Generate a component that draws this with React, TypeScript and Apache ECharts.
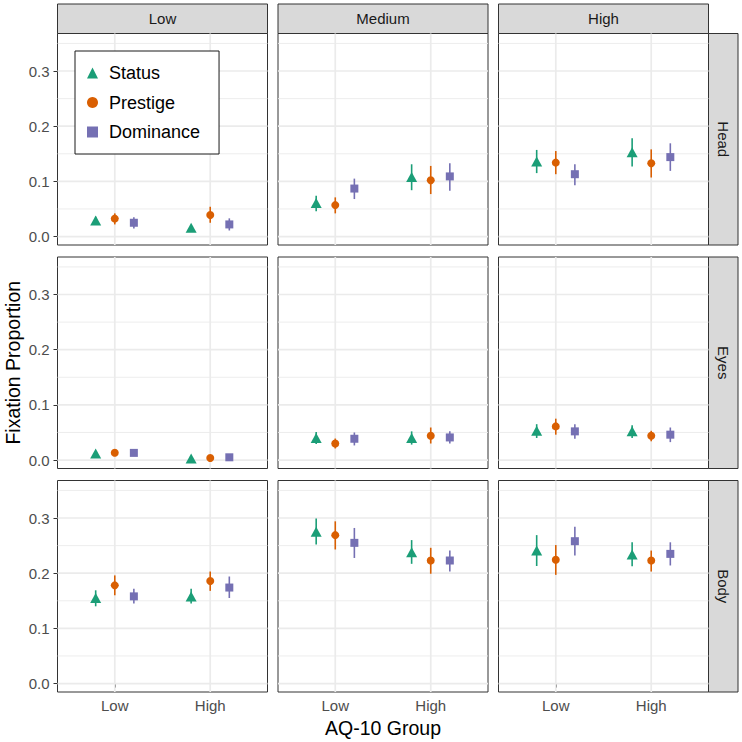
import React, { useEffect, useRef } from 'react';
import * as echarts from 'echarts';

// ---------- data ----------
const facetCols = ['Low', 'Medium', 'High'];
const facetRows = ['Head', 'Eyes', 'Body'];
const xCats = ['Low', 'High'];
const seriesNames = ['Status', 'Prestige', 'Dominance'];
const yTicks = [0, 0.1, 0.2, 0.3];
const yMinorTicks = [0.05, 0.15, 0.25, 0.35];

// [row: Head, Eyes, Body][col: Low, Medium, High][x: Low, High]
const statusMean = [
  [[0.029, 0.016], [0.061, 0.108], [0.136, 0.153]],
  [[0.012, 0.003], [0.040, 0.040], [0.053, 0.052]],
  [[0.155, 0.158], [0.275, 0.238], [0.241, 0.234]],
];
const statusLo = [
  [[0.022, 0.013], [0.046, 0.084], [0.115, 0.127]],
  [[0.009, 0.001], [0.029, 0.028], [0.040, 0.040]],
  [[0.140, 0.145], [0.252, 0.217], [0.213, 0.2125]],
];
const statusHi = [
  [[0.036, 0.019], [0.074, 0.131], [0.157, 0.178]],
  [[0.015, 0.005], [0.051, 0.052], [0.065, 0.063]],
  [[0.169, 0.172], [0.299, 0.260], [0.269, 0.256]],
];

const prestigeMean = [
  [[0.0325, 0.039], [0.057, 0.102], [0.134, 0.133]],
  [[0.0133, 0.0036], [0.030, 0.044], [0.061, 0.044]],
  [[0.178, 0.186], [0.269, 0.223], [0.2245, 0.223]],
];
const prestigeLo = [
  [[0.022, 0.025], [0.042, 0.077], [0.113, 0.107]],
  [[0.010, 0.002], [0.021, 0.030], [0.046, 0.034]],
  [[0.160, 0.168], [0.243, 0.199], [0.197, 0.203]],
];
const prestigeHi = [
  [[0.042, 0.054], [0.071, 0.128], [0.155, 0.158]],
  [[0.017, 0.006], [0.039, 0.059], [0.075, 0.053]],
  [[0.196, 0.203], [0.294, 0.246], [0.251, 0.241]],
];

const dominanceMean = [
  [[0.025, 0.022], [0.087, 0.109], [0.113, 0.144]],
  [[0.013, 0.005], [0.0386, 0.041], [0.052, 0.046]],
  [[0.158, 0.174], [0.255, 0.223], [0.258, 0.235]],
];
const dominanceLo = [
  [[0.0145, 0.011], [0.068, 0.083], [0.093, 0.119]],
  [[0.010, 0.003], [0.0265, 0.030], [0.0386, 0.0325]],
  [[0.145, 0.155], [0.2276, 0.203], [0.232, 0.214]],
];
const dominanceHi = [
  [[0.035, 0.033], [0.105, 0.133], [0.131, 0.169]],
  [[0.016, 0.007], [0.050, 0.052], [0.065, 0.059]],
  [[0.172, 0.194], [0.282, 0.241], [0.284, 0.256]],
];

// ---------- styling / layout ----------
const FONT = '"Liberation Sans", Arial, Helvetica, sans-serif';
const colors = ['#1B9E77', '#D95F02', '#7570B3'];
const symbols = ['triangle', 'circle', 'rect'];
const symbolSizes: any[] = [[11, 10], 8, 8];
const dodge = [-0.2, 0, 0.2];
const X_MIN = 0.4, X_MAX = 2.6;
const Y_MIN = -0.0153, Y_MAX = 0.368;
const colLeft = [57.5, 278, 498.5];
const rowTop = [33.5, 257, 480.5];
const panelW = 210;
const panelH = 211.5;
const stripTop = 4;
const stripSize = 29.5;

const groups = [
  { mean: statusMean, lo: statusLo, hi: statusHi },
  { mean: prestigeMean, lo: prestigeLo, hi: prestigeHi },
  { mean: dominanceMean, lo: dominanceLo, hi: dominanceHi },
];

function buildOption() {
  const grid: any[] = [];
  const xAxis: any[] = [];
  const yAxis: any[] = [];
  const series: any[] = [];
  const graphic: any[] = [];

  for (let r = 0; r < 3; r++) {
    for (let c = 0; c < 3; c++) {
      const idx = r * 3 + c;
      grid.push({
        left: colLeft[c], top: rowTop[r], width: panelW, height: panelH,
        show: true, borderColor: '#333333', borderWidth: 1, backgroundColor: '#ffffff',
      });
      xAxis.push({
        gridIndex: idx, type: 'value', min: X_MIN, max: X_MAX,
        axisLine: { show: false }, splitLine: { show: false },
        axisTick: { show: r === 2, customValues: [1, 2], length: 4, lineStyle: { color: '#333333', width: 1 } },
        axisLabel: {
          show: r === 2, customValues: [1, 2], margin: 6,
          formatter: (v: number) => xCats[Math.round(v) - 1] ?? '',
          fontSize: 15, color: '#4d4d4d', fontFamily: FONT,
        },
      });
      yAxis.push({
        gridIndex: idx, type: 'value', min: Y_MIN, max: Y_MAX,
        axisLine: { show: false }, splitLine: { show: false },
        axisTick: { show: c === 0, customValues: yTicks, length: 4, lineStyle: { color: '#333333', width: 1 } },
        axisLabel: {
          show: c === 0, customValues: yTicks, margin: 8,
          formatter: (v: number) => v.toFixed(1),
          fontSize: 15, color: '#4d4d4d', fontFamily: FONT,
        },
      });
      // gridlines
      series.push({
        type: 'custom', xAxisIndex: idx, yAxisIndex: idx, silent: true, z: 1,
        data: [[1, 0]],
        renderItem: (_p: any, api: any) => {
          const children: any[] = [];
          const hLine = (y: number, w: number) => {
            const a = api.coord([X_MIN, y]);
            const b = api.coord([X_MAX, y]);
            children.push({ type: 'line', shape: { x1: a[0], y1: a[1], x2: b[0], y2: b[1] }, style: { stroke: '#ebebeb', lineWidth: w } });
          };
          yMinorTicks.forEach((y) => hLine(y, 0.9));
          yTicks.forEach((y) => hLine(y, 1.7));
          [1, 2].forEach((x) => {
            const a = api.coord([x, Y_MIN]);
            const b = api.coord([x, Y_MAX]);
            children.push({ type: 'line', shape: { x1: a[0], y1: a[1], x2: b[0], y2: b[1] }, style: { stroke: '#ebebeb', lineWidth: 1.7 } });
          });
          return { type: 'group', children };
        },
      });
      // error bars + points
      groups.forEach((g, s) => {
        series.push({
          type: 'custom', name: seriesNames[s] + ' interval', xAxisIndex: idx, yAxisIndex: idx, silent: true, z: 2,
          data: xCats.map((_, k) => [k + 1 + dodge[s], g.lo[r][c][k], g.hi[r][c][k]]),
          renderItem: (_p: any, api: any) => {
            const x = api.value(0);
            const a = api.coord([x, api.value(1)]);
            const b = api.coord([x, api.value(2)]);
            return { type: 'line', shape: { x1: a[0], y1: a[1], x2: b[0], y2: b[1] }, style: { stroke: colors[s], lineWidth: 1.6 } };
          },
        });
        series.push({
          type: 'scatter', name: seriesNames[s], xAxisIndex: idx, yAxisIndex: idx, z: 3,
          symbol: symbols[s], symbolSize: symbolSizes[s],
          itemStyle: { color: colors[s], opacity: 1 },
          data: xCats.map((_, k) => [k + 1 + dodge[s], g.mean[r][c][k]]),
        });
      });
    }
  }

  // strips
  facetCols.forEach((name, c) => {
    graphic.push({
      type: 'rect', shape: { x: colLeft[c], y: stripTop, width: panelW, height: rowTop[0] - stripTop },
      style: { fill: '#d9d9d9', stroke: '#333333', lineWidth: 1 },
    });
    graphic.push({
      type: 'text', x: colLeft[c] + panelW / 2, y: (stripTop + rowTop[0]) / 2,
      style: { text: name, fontSize: 15, fill: '#1a1a1a', fontFamily: FONT, align: 'center', verticalAlign: 'middle' },
    });
  });
  const rightX = colLeft[2] + panelW;
  facetRows.forEach((name, r) => {
    graphic.push({
      type: 'rect', shape: { x: rightX, y: rowTop[r], width: stripSize, height: panelH },
      style: { fill: '#d9d9d9', stroke: '#333333', lineWidth: 1 },
    });
    graphic.push({
      type: 'text', x: rightX + stripSize / 2, y: rowTop[r] + panelH / 2, rotation: -Math.PI / 2,
      style: { text: name, fontSize: 15, fill: '#1a1a1a', fontFamily: FONT, align: 'center', verticalAlign: 'middle' },
    });
  });
  // axis titles
  graphic.push({
    type: 'text', x: colLeft[1] + panelW / 2, y: 728,
    style: { text: 'AQ-10 Group', fontSize: 19.5, fill: '#000000', fontFamily: FONT, align: 'center', verticalAlign: 'middle' },
  });
  graphic.push({
    type: 'text', x: 13, y: rowTop[1] + panelH / 2, rotation: Math.PI / 2,
    style: { text: 'Fixation Proportion', fontSize: 19.5, fill: '#000000', fontFamily: FONT, align: 'center', verticalAlign: 'middle' },
  });

  return {
    animation: false,
    backgroundColor: '#ffffff',
    grid, xAxis, yAxis, series, graphic,
    legend: {
      data: seriesNames, orient: 'vertical', left: 75, top: 51,
      padding: [13, 19, 13, 12], itemGap: 11.5, itemWidth: 11, itemHeight: 11,
      borderColor: '#1a1a1a', borderWidth: 1, backgroundColor: '#ffffff',
      textStyle: { fontSize: 18, color: '#000000', fontFamily: FONT, padding: [0, 0, 0, 6] },
      selectedMode: false,
    },
  };
}

export default function App() {
  const ref = useRef<HTMLDivElement>(null);
  useEffect(() => {
    document.body.style.margin = '0';
    const chart = echarts.init(ref.current!, null, { renderer: 'svg' });
    chart.setOption(buildOption() as any);
    return () => chart.dispose();
  }, []);
  return <div ref={ref} style={{ width: 742, height: 742 }} />;
}
